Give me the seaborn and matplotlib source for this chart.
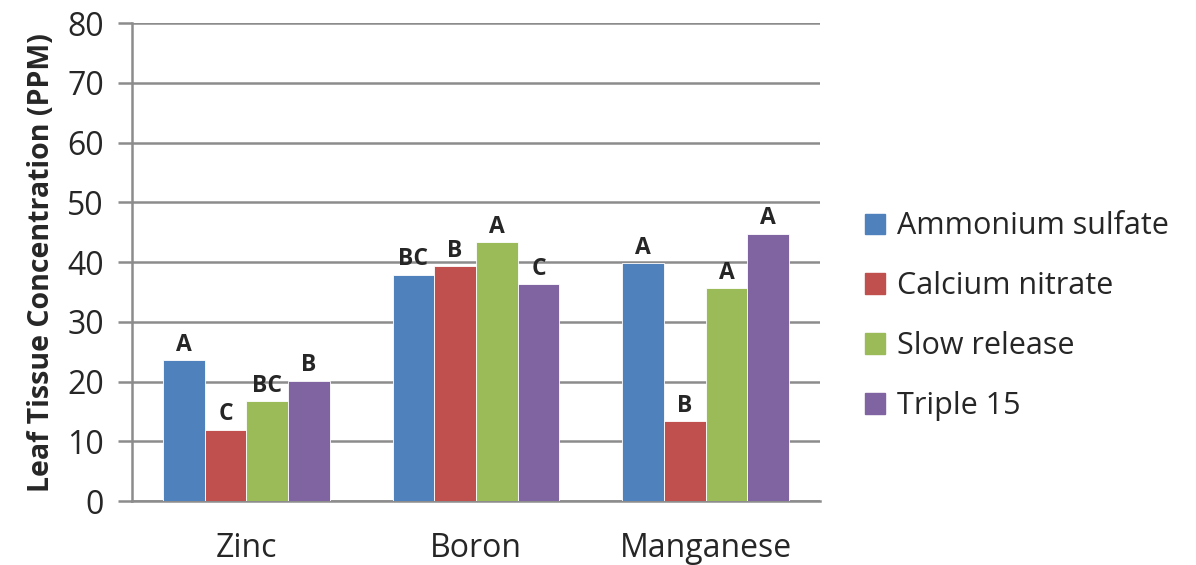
import pandas as pd
import numpy as np
import matplotlib.pyplot as plt
import seaborn as sns

# Chart data
elements = ["Zinc", "Boron", "Manganese"]
treatments = ["Ammonium sulfate", "Calcium nitrate", "Slow release", "Triple 15"]
ammonium_sulfate = [23.6, 37.9, 39.8]
calcium_nitrate = [11.9, 39.3, 13.4]
slow_release = [16.7, 43.3, 35.6]
triple_15 = [20.1, 36.3, 44.7]
letters = [
    ["A", "BC", "A"],
    ["C", "B", "B"],
    ["BC", "A", "A"],
    ["B", "C", "A"],
]
colors = ["#4F81BD", "#C0504D", "#9BBB59", "#8064A2"]

# Long form table for seaborn
series = [ammonium_sulfate, calcium_nitrate, slow_release, triple_15]
rows = []
for t, vals in zip(treatments, series):
    for e, v in zip(elements, vals):
        rows.append({"element": e, "treatment": t, "value": v})
data = pd.DataFrame(rows)

sns.set_style("white")
plt.rcParams['font.family'] = ['Open Sans', 'DejaVu Sans']

fig = plt.figure(figsize=(11.96, 5.65), dpi=100)
ax = fig.add_axes([0.110, 0.113, 0.576, 0.846])

sns.barplot(data=data, x="element", y="value", hue="treatment",
            palette=colors, saturation=1, width=0.727, gap=0,
            edgecolor="white", linewidth=0.6, ax=ax, zorder=3)

# significance letters above bars
for cont, labs in zip(ax.containers, letters):
    for bar, lab in zip(cont, labs):
        ax.text(bar.get_x() + bar.get_width() / 2, bar.get_height() + 0.6, lab,
                ha="center", va="bottom", fontsize=16.5, fontweight="bold", zorder=4)

ax.set_ylim(0, 80)
ax.set_xlim(-0.5, 2.5)
ax.set_yticks(np.arange(0, 81, 10))
ax.yaxis.grid(True, color="#8c8c8c", linewidth=1.8, zorder=0)
ax.set_axisbelow(True)
for s in ["top", "right"]:
    ax.spines[s].set_visible(False)
ax.spines["left"].set_color("#8c8c8c")
ax.spines["left"].set_linewidth(1.8)
ax.spines["bottom"].set_color("#8c8c8c")
ax.spines["bottom"].set_linewidth(1.8)
ax.tick_params(axis="y", direction="out", length=10, width=1.8, color="#8c8c8c",
               labelsize=23, pad=10, left=True)
ax.tick_params(axis="x", length=0, labelsize=23, pad=22)
ax.set_xlabel("")
ax.set_ylabel("Leaf Tissue Concentration (PPM)", fontsize=20.5, fontweight="bold", labelpad=8)

ax.get_legend().remove()
handles = [plt.Rectangle((0, 0), 1, 1, color=c) for c in colors]
fig.legend(handles, treatments, loc="center left", bbox_to_anchor=(0.7, 0.44),
           frameon=False, fontsize=22, handlelength=0.65, handleheight=0.65,
           handletextpad=0.4, labelspacing=0.98)

plt.savefig("out.png", dpi=100)
